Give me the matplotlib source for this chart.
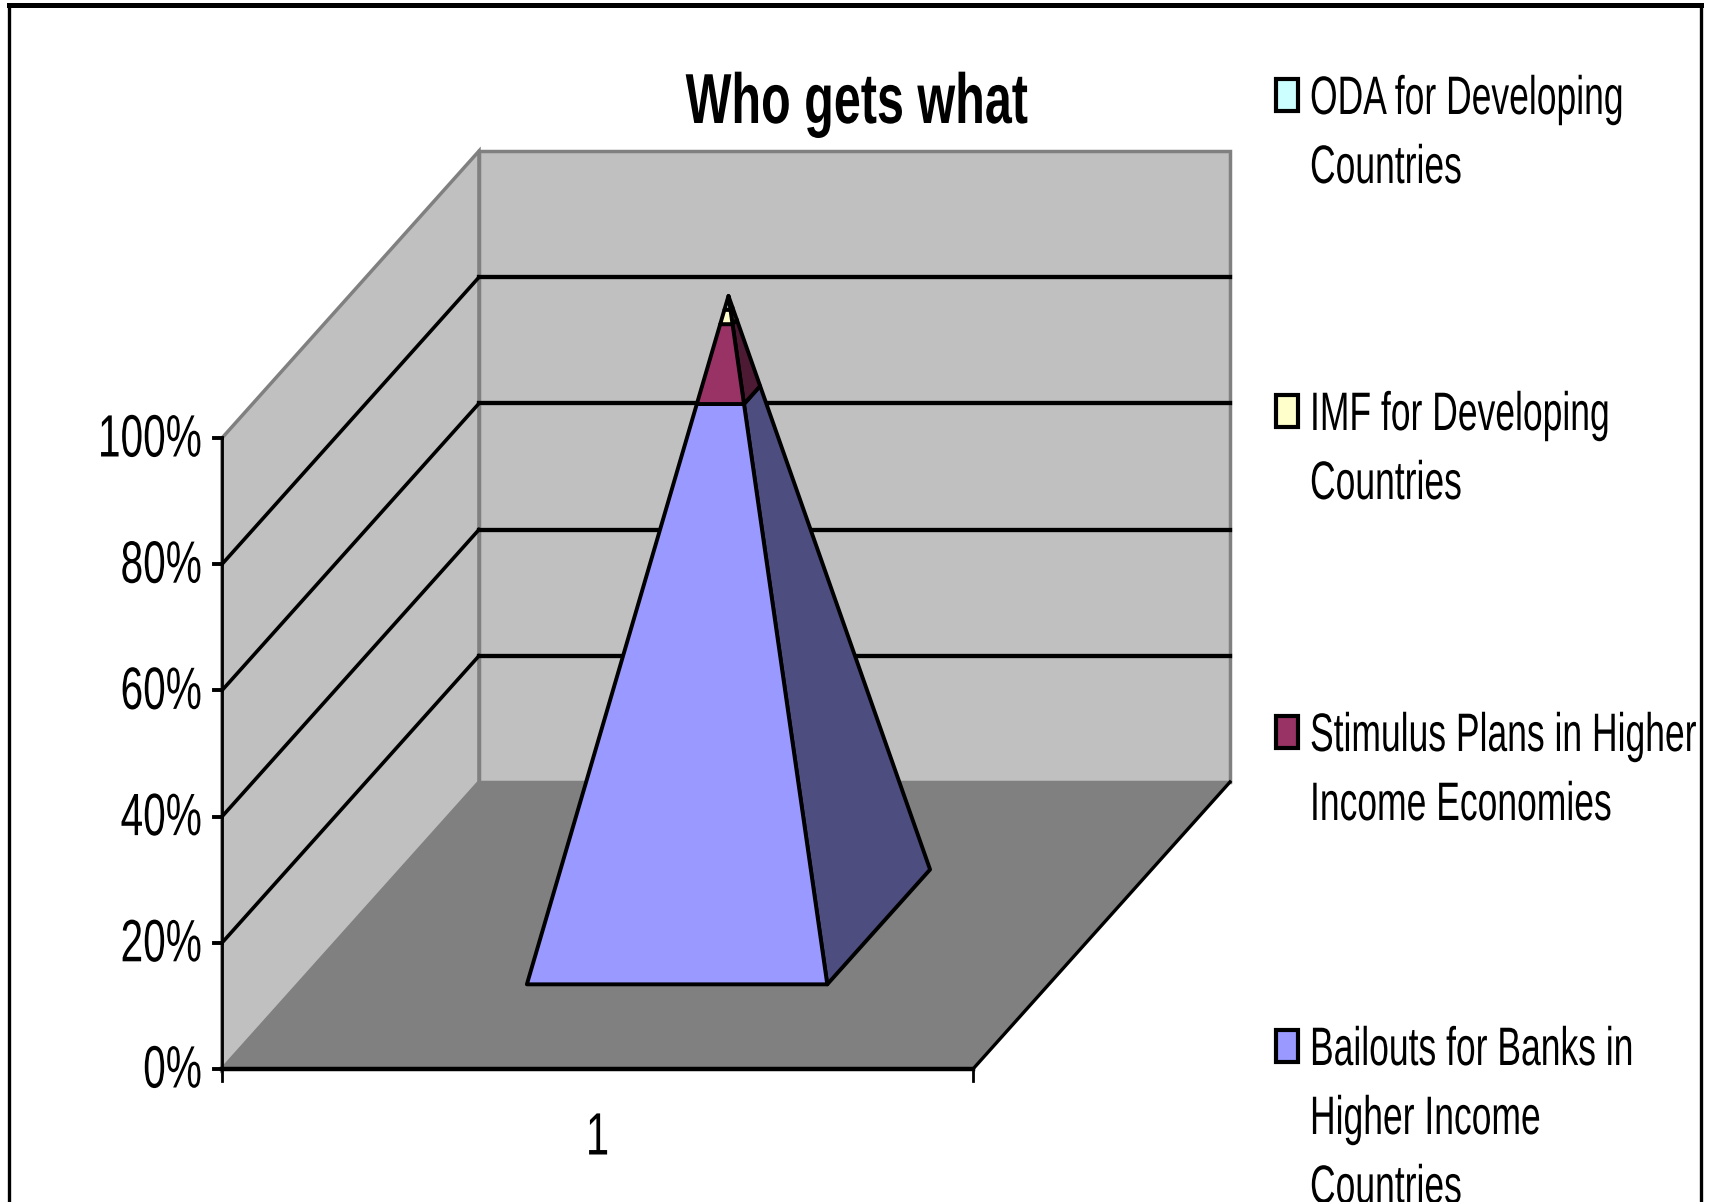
import numpy as np
import matplotlib
matplotlib.use('Agg')
import matplotlib.pyplot as plt
from matplotlib.patches import Polygon, Rectangle
from matplotlib.patheffects import AbstractPathEffect
from matplotlib.transforms import Affine2D

plt.rcParams['font.family'] = ['Liberation Sans', 'DejaVu Sans']

title = "Who gets what"
category = "1"
tick_values = [0, 20, 40, 60, 80, 100]

# bottom to top, as stacked in the pyramid
series_names = ["Bailouts for Banks in\nHigher Income\nCountries",
                "Stimulus Plans in Higher\nIncome Economies",
                "IMF for Developing\nCountries",
                "ODA for Developing\nCountries"]
series_values = [84.3, 11.6, 2.1, 2.0]
front_colors = ['#9999FF', '#993366', '#FFFFCC', '#CCFFFF']
side_colors = ['#4D4D80', '#4D1A33', '#808066', '#668080']
legend_y = [1048, 734, 413, 97]


# the original uses a very narrow font, squeeze the glyphs around x0
class Squeeze(AbstractPathEffect):
    def __init__(self, sx, x0):
        super().__init__()
        self.tr = Affine2D().translate(-x0, 0).scale(sx, 1).translate(x0, 0)

    def draw_path(self, renderer, gc, tpath, affine, rgbFace=None):
        renderer.draw_path(gc, tpath, affine + self.tr, rgbFace)


def narrow_text(x, y, s, sx, **kw):
    return ax.text(x, y, s, va='center', path_effects=[Squeeze(sx, x)], **kw)


# box projection, pixels of the picture
def proj(x, d, v):
    px = 222 + 751*x + 257*d
    py = 1069 - 287*d - 6.31*v
    return (px, py)


# point on one pyramid edge, t goes from base to apex
def edge(x, d, t):
    return proj(0.505 + (x-0.505)*(1-t), 0.495 + (d-0.495)*(1-t), 100*t)


fig = plt.figure(figsize=(17.1, 12.02), dpi=100)
ax = fig.add_axes([0, 0, 1, 1])
ax.set_xlim(0, 1710)
ax.set_ylim(1202, 0)
ax.axis('off')

# outer frame
ax.plot([9, 9], [1202, 5], color='black', lw=2.4)
ax.plot([9, 1701], [5, 5], color='black', lw=3.6)
ax.plot([1701, 1701], [5, 1202], color='black', lw=2.4)

# walls and floor
ax.add_patch(Polygon([proj(0, 0, 0), proj(0, 1, 0), proj(0, 1, 100), proj(0, 0, 100)],
                     fc='#C0C0C0', ec='#808080', lw=2.5))
ax.add_patch(Polygon([proj(0, 1, 0), proj(1, 1, 0), proj(1, 1, 100), proj(0, 1, 100)],
                     fc='#C0C0C0', ec='#808080', lw=2.5))
ax.add_patch(Polygon([proj(0, 0, 0), proj(1, 0, 0), proj(1, 1, 0), proj(0, 1, 0)],
                     fc='#808080', ec='#808080', lw=1))

# gridlines
for v in tick_values[1:-1]:
    a, b, c = proj(0, 0, v), proj(0, 1, v), proj(1, 1, v)
    ax.plot([a[0], b[0]], [a[1], b[1]], color='black', lw=2.6)
    ax.plot([b[0], c[0]], [b[1], c[1]], color='black', lw=3.1)

# axes
a, b, c, e = proj(0, 0, 100), proj(0, 0, 0), proj(1, 0, 0), proj(1, 1, 0)
ax.plot([a[0], b[0]], [a[1], b[1]], color='black', lw=2)
ax.plot([b[0], c[0]], [b[1], c[1]], color='black', lw=3.2)
ax.plot([c[0], e[0]], [c[1], e[1]], color='black', lw=2.4)
for v in tick_values:
    px, py = proj(0, 0, v)
    ax.plot([px-8, px], [py, py], color='black', lw=2.8)
    narrow_text(px-20, py+3, "%d%%" % v, 0.68, ha='right', fontsize=43)
for x in [0, 1]:
    px, py = proj(x, 0, 0)
    ax.plot([px, px], [py, py+12], color='black', lw=2)
px, py = proj(0.5, 0, 0)
narrow_text(px, py+70, category, 0.70, ha='center', fontsize=43)

# pyramid, one slice per series
cum = np.cumsum([0] + series_values)/100.0
for i in range(len(series_values)):
    t0, t1 = cum[i], cum[i+1]
    front = [edge(0.305, 0.295, t0), edge(0.705, 0.295, t0), edge(0.705, 0.295, t1), edge(0.305, 0.295, t1)]
    side = [edge(0.705, 0.295, t0), edge(0.705, 0.695, t0), edge(0.705, 0.695, t1), edge(0.705, 0.295, t1)]
    ax.add_patch(Polygon(side, fc=side_colors[i], ec='black', lw=2.8, joinstyle='round', zorder=3))
    ax.add_patch(Polygon(front, fc=front_colors[i], ec='black', lw=2.8, joinstyle='round', zorder=3))

narrow_text(857, 105, title, 0.685, ha='center', fontsize=51, fontweight='bold')

# legend
for name, color, y in zip(series_names, front_colors, legend_y):
    ax.add_patch(Rectangle((1276, y-18), 22, 32, fc=color, ec='black', lw=3))
    for j, line in enumerate(name.split("\n")):
        narrow_text(1310, y + 3 + 69*j, line, 0.655, ha='left', fontsize=39)

fig.savefig('out.png', dpi=100)
